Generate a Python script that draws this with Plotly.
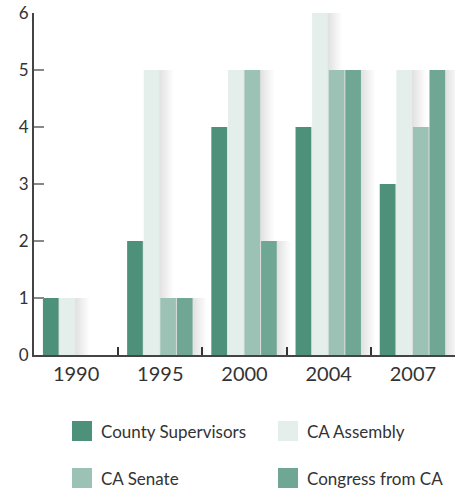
import plotly.graph_objects as go

years = ["1990", "1995", "2000", "2004", "2007"]
series_names = ["County Supervisors", "CA Assembly", "CA Senate", "Congress from CA"]
county_supervisors = [1, 2, 4, 4, 3]
ca_assembly = [1, 5, 5, 6, 5]
ca_senate = [0, 1, 5, 5, 4]
congress_from_ca = [0, 1, 2, 5, 5]
y_ticks = [0, 1, 2, 3, 4, 5, 6]

series_values = [county_supervisors, ca_assembly, ca_senate, congress_from_ca]
colors = ["#4E917A", "#E4EFEC", "#9BC2B5", "#6FA794"]

W, H = 459, 492
PL, PR, PT, PB = 34, 455, 13, 355   # plot-area edges in window pixels
L, T = PL, PT
R = W - PR
B = H - PB
plot_w = PR - PL
plot_h = PB - PT

xpos = list(range(len(years)))
slot = 0.197
bar_w = 0.186
start = -0.394

fig = go.Figure()

# soft drop shadows (beneath bars)
n_layers = 16
for i, vals in enumerate(series_values):
    for k in range(n_layers):
        w = 0.18 * (k + 1) / n_layers
        fig.add_trace(go.Bar(
            x=xpos, y=vals,
            offset=start + i * slot + bar_w - 0.01,
            width=w,
            marker=dict(color="rgba(0,0,0,0.009)", line=dict(width=0)),
            hoverinfo="skip", showlegend=False,
        ))

for i, (name, vals) in enumerate(zip(series_names, series_values)):
    fig.add_trace(go.Bar(
        x=xpos, y=vals, name=name,
        offset=start + i * slot, width=bar_w,
        marker=dict(color=colors[i], line=dict(width=0)),
        showlegend=False,
    ))

# manual legend (window pixel positions -> paper coords)
def px_x(p):
    return (p - PL) / plot_w

def px_y(p):
    return (PB - p) / plot_h

legend_pos = [(72, 421), (278, 421), (72, 468), (278, 468)]
for (lx, ly), name, c in zip(legend_pos, series_names, colors):
    fig.add_shape(type="rect", xref="paper", yref="paper",
                  x0=px_x(lx), x1=px_x(lx + 20), y0=px_y(ly + 20), y1=px_y(ly),
                  fillcolor=c, line=dict(width=0))
    fig.add_annotation(xref="paper", yref="paper", x=px_x(lx + 27), y=px_y(ly + 10),
                       text=name, showarrow=False, xanchor="left", yanchor="middle",
                       font=dict(size=17, color="#333333", family="Lato"))

fig.update_layout(
    width=W, height=H,
    margin=dict(l=L, r=R, t=T, b=B, pad=0, autoexpand=False),
    barmode="overlay",
    plot_bgcolor="white", paper_bgcolor="white",
    font=dict(family="Lato", color="#333333"),
    xaxis=dict(
        range=[-0.5, 4.5], tickmode="array", tickvals=xpos, ticktext=years,
        ticks="", showgrid=False, zeroline=False, automargin=False,
        showline=True, linecolor="#444444", linewidth=2,
        tickfont=dict(size=20, color="#333333"),
        minor=dict(tickmode="array", tickvals=[0.5, 1.5, 2.5, 3.5], ticks="inside",
                   ticklen=8, tickwidth=1.5, tickcolor="#333333", showgrid=False),
    ),
    yaxis=dict(
        range=[0, 6], tickmode="array", tickvals=y_ticks,
        ticks="inside", ticklen=10, tickwidth=2, tickcolor="#888888",
        showgrid=False, zeroline=False, ticklabeloverflow="allow", automargin=False,
        showline=True, linecolor="#444444", linewidth=2,
        tickfont=dict(size=17, color="#333333"),
    ),
)

fig.write_html("out.html", config={"displayModeBar": False},
               post_script="document.body.style.margin='0';")
